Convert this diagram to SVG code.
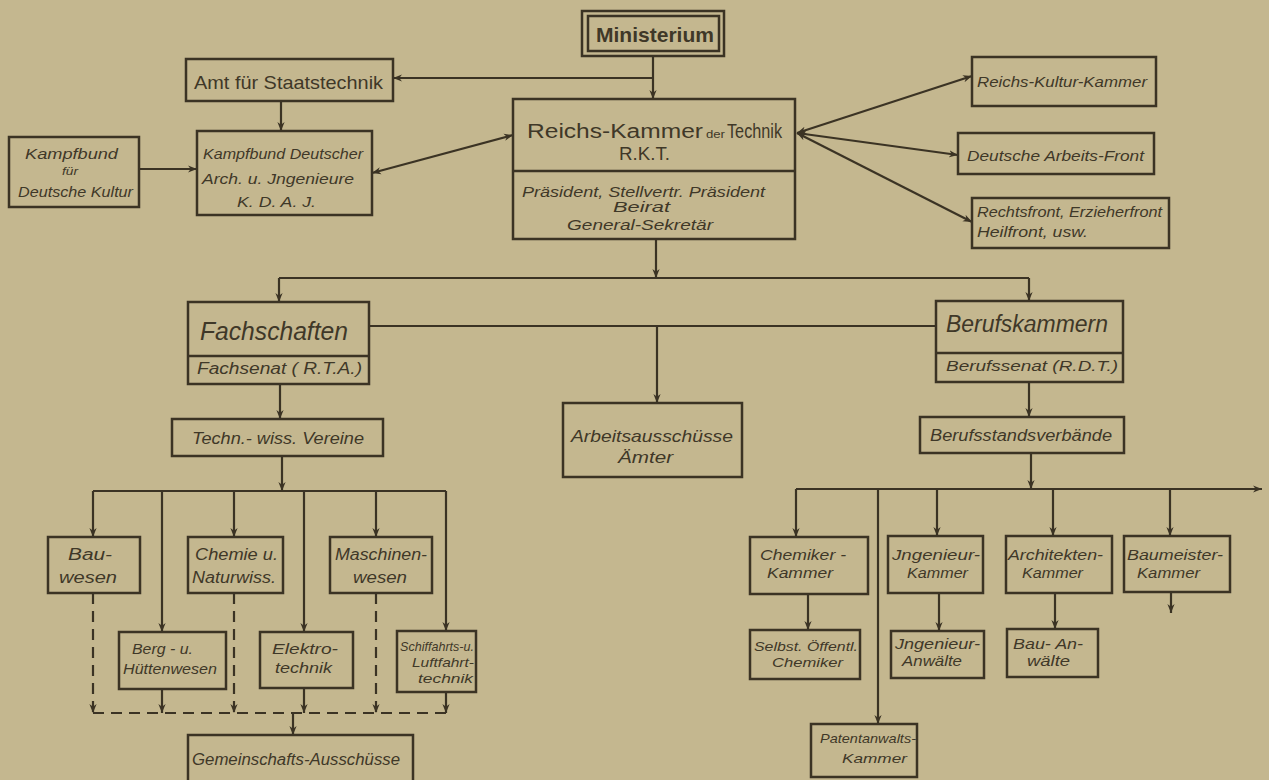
<svg xmlns="http://www.w3.org/2000/svg" width="1269" height="780" viewBox="0 0 1269 780">
<style>
.bg{fill:#c4b78f}
.box{fill:none;stroke:#3b3324;stroke-width:2.5}
.ln{fill:none;stroke:#3b3324;stroke-width:2.2}
.dash{fill:none;stroke:#3b3324;stroke-width:2.2;stroke-dasharray:11 7}
text{font-family:"Liberation Sans",Arial,sans-serif;fill:#3f3828}
.i{font-style:italic}
.b{font-weight:bold}
</style>
<defs>
<marker id="a" viewBox="0 0 10 10" refX="10" refY="5" markerWidth="9" markerHeight="9" markerUnits="userSpaceOnUse" orient="auto-start-reverse">
<path d="M0,1 L10,5 L0,9 L3,5 Z" fill="#3b3324"/>
</marker>
</defs>
<rect class="bg" x="0" y="0" width="1269" height="780"/>

<g id="connectors">
<path class="ln" d="M653,56 V99" marker-end="url(#a)"/>
<path class="ln" d="M653,78 H393" marker-end="url(#a)"/>
<path class="ln" d="M281,101 V131" marker-end="url(#a)"/>
<path class="ln" d="M139,169 H197" marker-end="url(#a)"/>
<path class="ln" d="M372,173 L513,135" marker-start="url(#a)" marker-end="url(#a)"/>
<path class="ln" d="M797,133 L972,76" marker-start="url(#a)" marker-end="url(#a)"/>
<path class="ln" d="M797,133 L958,155" marker-start="url(#a)" marker-end="url(#a)"/>
<path class="ln" d="M797,133 L972,222" marker-start="url(#a)" marker-end="url(#a)"/>
<path class="ln" d="M656,239 V278" marker-end="url(#a)"/>
<path class="ln" d="M279,278 H1029"/>
<path class="ln" d="M279,278 V302" marker-end="url(#a)"/>
<path class="ln" d="M1029,278 V301" marker-end="url(#a)"/>
<path class="ln" d="M369,326 H936"/>
<path class="ln" d="M657,326 V403" marker-end="url(#a)"/>
<path class="ln" d="M280,384 V419" marker-end="url(#a)"/>
<path class="ln" d="M282,456 V491" marker-end="url(#a)"/>
<path class="ln" d="M93,491 H446"/>
<path class="ln" d="M93,491 V537" marker-end="url(#a)"/>
<path class="ln" d="M162,491 V632" marker-end="url(#a)"/>
<path class="ln" d="M234,491 V537" marker-end="url(#a)"/>
<path class="ln" d="M304,491 V632" marker-end="url(#a)"/>
<path class="ln" d="M376,491 V537" marker-end="url(#a)"/>
<path class="ln" d="M446,491 V631" marker-end="url(#a)"/>
<path class="dash" d="M93,593 V713" marker-end="url(#a)"/>
<path class="dash" d="M234,593 V713" marker-end="url(#a)"/>
<path class="dash" d="M376,593 V713" marker-end="url(#a)"/>
<path class="dash" d="M93,713 H446"/>
<path class="ln" d="M162,689 V713" marker-end="url(#a)"/>
<path class="ln" d="M304,688 V713" marker-end="url(#a)"/>
<path class="ln" d="M446,692 V713" marker-end="url(#a)"/>
<path class="ln" d="M293,713 V735" marker-end="url(#a)"/>
<path class="ln" d="M1029,382 V417" marker-end="url(#a)"/>
<path class="ln" d="M1031,453 V489" marker-end="url(#a)"/>
<path class="ln" d="M796,489 H1262" marker-end="url(#a)"/>
<path class="ln" d="M796,489 V537" marker-end="url(#a)"/>
<path class="ln" d="M878,489 V724" marker-end="url(#a)"/>
<path class="ln" d="M937,489 V536" marker-end="url(#a)"/>
<path class="ln" d="M1053,489 V536" marker-end="url(#a)"/>
<path class="ln" d="M1170,489 V536" marker-end="url(#a)"/>
<path class="ln" d="M808,594 V630" marker-end="url(#a)"/>
<path class="ln" d="M939,593 V631" marker-end="url(#a)"/>
<path class="ln" d="M1055,593 V629" marker-end="url(#a)"/>
<path class="ln" d="M1171,592 V613" marker-end="url(#a)"/>
</g>

<g id="ministerium">
<rect class="box" x="582" y="11" width="142" height="45"/>
<rect class="box" x="588" y="16" width="131" height="35"/>
<text class="b" x="596" y="42" font-size="21" textLength="118" lengthAdjust="spacingAndGlyphs">Ministerium</text>
</g>

<g id="amt">
<rect class="box" x="186" y="59" width="207" height="42"/>
<text x="194" y="89" font-size="19" textLength="189" lengthAdjust="spacingAndGlyphs">Amt für Staatstechnik</text>
</g>

<g id="kampfbund-kultur">
<rect class="box" x="9" y="137" width="130" height="70"/>
<text class="i" x="25" y="159" font-size="15" textLength="93" lengthAdjust="spacingAndGlyphs">Kampfbund</text>
<text class="i" x="62" y="175" font-size="11" textLength="16" lengthAdjust="spacingAndGlyphs">für</text>
<text class="i" x="18" y="197" font-size="15" textLength="115" lengthAdjust="spacingAndGlyphs">Deutsche Kultur</text>
</g>

<g id="kdaj">
<rect class="box" x="197" y="131" width="175" height="84"/>
<text class="i" x="203" y="159" font-size="15" textLength="160" lengthAdjust="spacingAndGlyphs">Kampfbund Deutscher</text>
<text class="i" x="202" y="184" font-size="15" textLength="152" lengthAdjust="spacingAndGlyphs">Arch. u. Jngenieure</text>
<text class="i" x="237" y="207" font-size="15" textLength="79" lengthAdjust="spacingAndGlyphs">K. D. A. J.</text>
</g>

<g id="rkt">
<rect class="box" x="513" y="99" width="282" height="140"/>
<line class="box" x1="513" y1="171" x2="795" y2="171"/>
<text x="527" y="138" font-size="20" textLength="176" lengthAdjust="spacingAndGlyphs">Reichs-Kammer</text>
<text x="706" y="138" font-size="11" textLength="19" lengthAdjust="spacingAndGlyphs">der</text>
<text x="727" y="138" font-size="20" textLength="55" lengthAdjust="spacingAndGlyphs">Technik</text>
<text x="619" y="160" font-size="18" textLength="51" lengthAdjust="spacingAndGlyphs">R.K.T.</text>
<text class="i" x="522" y="197" font-size="15" textLength="243" lengthAdjust="spacingAndGlyphs">Präsident, Stellvertr. Präsident</text>
<text class="i" x="613" y="212" font-size="15" textLength="57" lengthAdjust="spacingAndGlyphs">Beirat</text>
<text class="i" x="567" y="230" font-size="15" textLength="146" lengthAdjust="spacingAndGlyphs">General-Sekretär</text>
</g>

<g id="reichs-kultur-kammer">
<rect class="box" x="972" y="57" width="184" height="49"/>
<text class="i" x="977" y="87" font-size="15" textLength="170" lengthAdjust="spacingAndGlyphs">Reichs-Kultur-Kammer</text>
</g>

<g id="deutsche-arbeits-front">
<rect class="box" x="958" y="133" width="196" height="41"/>
<text class="i" x="967" y="161" font-size="15" textLength="177" lengthAdjust="spacingAndGlyphs">Deutsche Arbeits-Front</text>
</g>

<g id="rechtsfront">
<rect class="box" x="972" y="198" width="197" height="50"/>
<text class="i" x="977" y="217" font-size="14" textLength="185" lengthAdjust="spacingAndGlyphs">Rechtsfront, Erzieherfront</text>
<text class="i" x="977" y="237" font-size="14" textLength="111" lengthAdjust="spacingAndGlyphs">Heilfront, usw.</text>
</g>

<g id="fachschaften">
<rect class="box" x="188" y="302" width="181" height="82"/>
<line class="box" x1="188" y1="356" x2="369" y2="356"/>
<text class="i" x="200" y="340" font-size="25" textLength="148" lengthAdjust="spacingAndGlyphs">Fachschaften</text>
<text class="i" x="197" y="374" font-size="16" textLength="165" lengthAdjust="spacingAndGlyphs">Fachsenat ( R.T.A.)</text>
</g>

<g id="arbeitsausschuesse">
<rect class="box" x="563" y="403" width="179" height="74"/>
<text class="i" x="571" y="442" font-size="17" textLength="162" lengthAdjust="spacingAndGlyphs">Arbeitsausschüsse</text>
<text class="i" x="618" y="463" font-size="17" textLength="55" lengthAdjust="spacingAndGlyphs">Ämter</text>
</g>

<g id="berufskammern">
<rect class="box" x="936" y="301" width="187" height="81"/>
<line class="box" x1="936" y1="353" x2="1123" y2="353"/>
<text class="i" x="946" y="332" font-size="23" textLength="162" lengthAdjust="spacingAndGlyphs">Berufskammern</text>
<text class="i" x="946" y="371" font-size="15" textLength="172" lengthAdjust="spacingAndGlyphs">Berufssenat (R.D.T.)</text>
</g>

<g id="techn-wiss-vereine">
<rect class="box" x="172" y="419" width="211" height="37"/>
<text class="i" x="192" y="444" font-size="16" textLength="172" lengthAdjust="spacingAndGlyphs">Techn.- wiss. Vereine</text>
</g>

<g id="berufsstandsverbaende">
<rect class="box" x="920" y="417" width="204" height="36"/>
<text class="i" x="930" y="441" font-size="16" textLength="182" lengthAdjust="spacingAndGlyphs">Berufsstandsverbände</text>
</g>

<g id="bauwesen">
<rect class="box" x="48" y="537" width="92" height="56"/>
<text class="i" x="68" y="560" font-size="16" textLength="44" lengthAdjust="spacingAndGlyphs">Bau-</text>
<text class="i" x="59" y="583" font-size="16" textLength="58" lengthAdjust="spacingAndGlyphs">wesen</text>
</g>

<g id="chemie">
<rect class="box" x="188" y="537" width="95" height="56"/>
<text class="i" x="195" y="560" font-size="16" textLength="83" lengthAdjust="spacingAndGlyphs">Chemie u.</text>
<text class="i" x="192" y="583" font-size="16" textLength="84" lengthAdjust="spacingAndGlyphs">Naturwiss.</text>
</g>

<g id="maschinenwesen">
<rect class="box" x="330" y="537" width="102" height="56"/>
<text class="i" x="335" y="560" font-size="16" textLength="92" lengthAdjust="spacingAndGlyphs">Maschinen-</text>
<text class="i" x="353" y="583" font-size="16" textLength="54" lengthAdjust="spacingAndGlyphs">wesen</text>
</g>

<g id="berg">
<rect class="box" x="119" y="632" width="107" height="57"/>
<text class="i" x="132" y="654" font-size="15" textLength="61" lengthAdjust="spacingAndGlyphs">Berg - u.</text>
<text class="i" x="123" y="674" font-size="15" textLength="94" lengthAdjust="spacingAndGlyphs">Hüttenwesen</text>
</g>

<g id="elektrotechnik">
<rect class="box" x="260" y="632" width="93" height="56"/>
<text class="i" x="272" y="654" font-size="15" textLength="66" lengthAdjust="spacingAndGlyphs">Elektro-</text>
<text class="i" x="275" y="673" font-size="15" textLength="57" lengthAdjust="spacingAndGlyphs">technik</text>
</g>

<g id="schiffahrt">
<rect class="box" x="397" y="631" width="79" height="61"/>
<text class="i" x="400" y="651" font-size="13" textLength="74" lengthAdjust="spacingAndGlyphs">Schiffahrts-u.</text>
<text class="i" x="412" y="667" font-size="13" textLength="62" lengthAdjust="spacingAndGlyphs">Luftfahrt-</text>
<text class="i" x="418" y="683" font-size="13" textLength="55" lengthAdjust="spacingAndGlyphs">technik</text>
</g>

<g id="gemeinschafts-ausschuesse">
<rect class="box" x="188" y="735" width="225" height="50"/>
<text class="i" x="192" y="765" font-size="16" textLength="208" lengthAdjust="spacingAndGlyphs">Gemeinschafts-Ausschüsse</text>
</g>

<g id="chemiker-kammer">
<rect class="box" x="750" y="537" width="118" height="57"/>
<text class="i" x="760" y="560" font-size="15" textLength="86" lengthAdjust="spacingAndGlyphs">Chemiker -</text>
<text class="i" x="767" y="578" font-size="15" textLength="66" lengthAdjust="spacingAndGlyphs">Kammer</text>
</g>

<g id="selbst-chemiker">
<rect class="box" x="750" y="630" width="110" height="49"/>
<text class="i" x="754" y="651" font-size="13" textLength="104" lengthAdjust="spacingAndGlyphs">Selbst. Öffentl.</text>
<text class="i" x="772" y="667" font-size="13" textLength="71" lengthAdjust="spacingAndGlyphs">Chemiker</text>
</g>

<g id="patentanwalts-kammer">
<rect class="box" x="811" y="724" width="106" height="53"/>
<text class="i" x="820" y="743" font-size="13" textLength="96" lengthAdjust="spacingAndGlyphs">Patentanwalts-</text>
<text class="i" x="842" y="763" font-size="13" textLength="65" lengthAdjust="spacingAndGlyphs">Kammer</text>
</g>

<g id="ingenieur-kammer">
<rect class="box" x="888" y="536" width="95" height="57"/>
<text class="i" x="892" y="560" font-size="15" textLength="88" lengthAdjust="spacingAndGlyphs">Jngenieur-</text>
<text class="i" x="907" y="578" font-size="15" textLength="61" lengthAdjust="spacingAndGlyphs">Kammer</text>
</g>

<g id="architekten-kammer">
<rect class="box" x="1006" y="536" width="106" height="57"/>
<text class="i" x="1008" y="560" font-size="15" textLength="95" lengthAdjust="spacingAndGlyphs">Architekten-</text>
<text class="i" x="1022" y="578" font-size="15" textLength="61" lengthAdjust="spacingAndGlyphs">Kammer</text>
</g>

<g id="baumeister-kammer">
<rect class="box" x="1124" y="536" width="106" height="56"/>
<text class="i" x="1127" y="560" font-size="15" textLength="96" lengthAdjust="spacingAndGlyphs">Baumeister-</text>
<text class="i" x="1137" y="578" font-size="15" textLength="63" lengthAdjust="spacingAndGlyphs">Kammer</text>
</g>

<g id="ingenieur-anwaelte">
<rect class="box" x="891" y="631" width="93" height="47"/>
<text class="i" x="895" y="649" font-size="14" textLength="85" lengthAdjust="spacingAndGlyphs">Jngenieur-</text>
<text class="i" x="902" y="666" font-size="14" textLength="60" lengthAdjust="spacingAndGlyphs">Anwälte</text>
</g>

<g id="bau-anwaelte">
<rect class="box" x="1007" y="629" width="91" height="48"/>
<text class="i" x="1013" y="649" font-size="14" textLength="70" lengthAdjust="spacingAndGlyphs">Bau- An-</text>
<text class="i" x="1027" y="666" font-size="14" textLength="43" lengthAdjust="spacingAndGlyphs">wälte</text>
</g>
</svg>
